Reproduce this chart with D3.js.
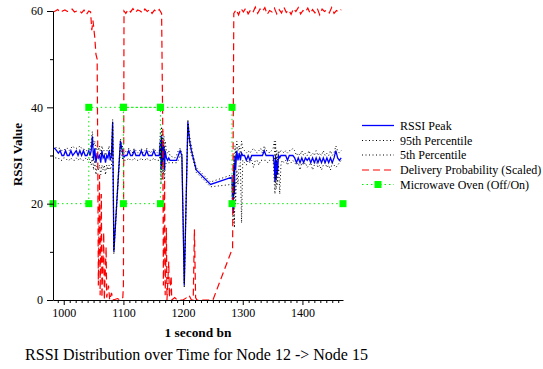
<!DOCTYPE html>
<html>
<head>
<meta charset="utf-8">
<script src="https://cdn.jsdelivr.net/npm/d3@7/dist/d3.min.js"></script>
<style>
  html, body { margin: 0; padding: 0; background: #fff; }
  svg { display: block; }
</style>
</head>
<body>
<svg id="chart" width="543" height="369"></svg>
<script>
// ---- RSSI samples (1 second bins), shared time axis for the three RSSI series ----
const rssiTime = [
  982, 985, 988, 991, 994, 997, 1000, 1003, 1006, 1009, 1012, 1015, 1018, 1021, 1024, 1027, 1030, 1033, 1036, 1039, 1042,
  1044, 1046, 1048, 1050, 1052, 1054, 1056, 1058, 1060, 1062, 1064, 1066, 1068, 1070, 1072, 1074, 1076, 1078, 1080,
  1082, 1084, 1095, 1098, 1100,
  1103, 1106, 1109, 1112, 1115, 1118, 1121, 1124, 1127, 1130, 1133, 1136, 1139, 1142, 1145, 1148, 1151, 1154, 1157, 1160,
  1162, 1163, 1164, 1165, 1166, 1167, 1168, 1169, 1170, 1172, 1174, 1176, 1178, 1180,
  1183, 1186, 1189, 1192, 1195, 1198,
  1202, 1208, 1211, 1214, 1217, 1222, 1246, 1282,
  1283, 1284, 1285, 1286, 1287, 1288, 1290, 1292, 1294, 1296, 1298, 1300,
  1303, 1306, 1309, 1312, 1315, 1318, 1321, 1324, 1327, 1330, 1333, 1336, 1339, 1342, 1345, 1348, 1351,
  1353, 1354, 1355, 1356, 1357, 1358, 1360, 1362, 1364,
  1366, 1369, 1372, 1375, 1378, 1381, 1384, 1387, 1390, 1393, 1396, 1399, 1402, 1405, 1408, 1411, 1414,
  1417, 1420, 1423, 1426, 1429, 1432, 1435, 1438, 1441, 1444, 1447, 1450, 1453, 1456, 1459, 1462, 1465
];
const rssiPeak = [
  31.5, 31.5, 31, 30.5, 31, 30, 30, 31, 30, 30, 31, 30, 30.5, 31, 30, 31, 30, 31, 30, 30, 31,
  30, 31, 34, 29, 31.5, 28.5, 30.5, 29.5, 30, 28.5, 31, 29.5, 30, 28.5, 30, 29.5, 31, 29, 30,
  37, 10, 33, 31, 29.5,
  30, 30, 31, 30, 30, 31, 30, 30, 30, 31, 30, 30, 31, 30, 30, 30, 31, 30, 30, 30,
  33, 27, 34, 28, 33, 29, 32, 27, 31, 29.5, 29, 29.5, 29, 29,
  29, 29, 29, 30, 31, 30,
  3, 37, 33, 31, 29.5, 27, 24, 25.5,
  20, 18, 28, 22, 30, 27, 31, 29, 30.5, 29, 30.5, 30,
  30, 29, 30, 29, 30, 30, 30, 30, 30, 30, 30, 31, 30, 30, 30, 30, 30,
  28, 24.5, 30, 25, 29, 26, 30, 29.5, 30,
  30, 30, 30, 29, 30, 30, 30, 29.5, 28.5, 29.5, 28.5, 29.5, 28.5, 29.5, 29, 29.5, 28.5,
  29.5, 28.5, 29.5, 28.5, 29.5, 28.5, 29.5, 28.5, 29.5, 28.5, 29.5, 28.5, 29.5, 31, 29.5, 29, 29.5
];
const rssiP95 = [
  32, 32, 31.5, 31.5, 31.5, 31, 31, 31.5, 31.5, 31, 31.5, 32, 31.5, 31.5, 31.5, 32, 31.5, 31.5, 31, 31, 31.5,
  31, 33, 35, 32, 33, 31, 32, 31, 32, 30, 32, 31, 31, 30, 31, 31, 32, 30, 31,
  37.5, 10.5, 33.5, 32, 30.5,
  31, 30.5, 31.5, 31, 30.5, 31.5, 31, 30.5, 31, 31.5, 30.5, 31, 31.5, 31, 30.5, 31, 31.5, 31, 30.5, 31,
  35, 30, 36, 31, 35, 32, 34, 30, 33, 31, 30.5, 31, 30, 30,
  29.5, 29.5, 30, 31, 31.5, 30.5,
  3.5, 37.5, 34, 32, 30, 27.5, 24.5, 26,
  25, 22, 30, 26, 32, 30, 33, 31, 32, 30, 33, 31.5,
  31, 30.5, 31, 30.5, 31, 31.5, 31, 30.5, 31, 31.5, 30.5, 32, 31, 31, 30.5, 31, 31.5,
  33, 29, 33, 28, 31, 29, 31, 30.5, 31,
  31, 30.5, 31, 30.5, 31, 31, 31.5, 31, 30, 30.5, 30, 31, 30, 30.5, 30, 31, 30,
  30.5, 30, 31, 30, 30.5, 30, 31, 30, 30.5, 30, 31, 30, 30.5, 32, 31, 30.5, 31
];
const rssiP05 = [
  30, 29.5, 29.5, 29.5, 29, 29, 29.5, 29.5, 29, 29, 29.5, 29, 29, 29.5, 29, 29.5, 29, 29, 29.5, 29, 29.5,
  29, 28, 30, 27, 29, 26, 28, 27, 28, 26, 28, 27, 28, 26, 28, 27, 28, 27, 28,
  36, 9.5, 32, 29.5, 29,
  29, 29, 29.5, 29, 29, 29.5, 29, 29, 29, 29.5, 29, 29, 29.5, 29, 29, 29, 29.5, 29, 29, 29,
  31, 24, 32, 25, 30, 26, 29, 25, 28, 28.5, 28.5, 28.5, 28.5, 28.5,
  28.5, 28.5, 28.5, 29, 30, 29.5,
  2.5, 36, 32, 30, 29, 26.5, 23.5, 24,
  18, 16, 24, 15, 25, 20, 27, 24, 28, 28.5, 16, 29,
  28.5, 28, 29, 28.5, 29, 27.5, 29, 29, 28, 29, 29, 29, 29, 28.5, 29, 29, 29,
  24, 22, 26, 23, 27, 24, 28, 22, 28,
  29, 28.5, 29, 28, 29, 28.5, 29, 28.5, 28, 28.5, 27, 28.5, 28, 28.5, 27.5, 28, 28.5,
  27, 28, 28.5, 27.5, 28, 27, 28, 28.5, 27.5, 28, 27, 28.5, 28, 27.5, 28, 28.5, 29
];

// ---- Packet delivery probability, scaled so that 100% sits at 60 ----
const deliveryTime = [
  982, 986, 990, 994, 998, 1002, 1006, 1010, 1014, 1018, 1022, 1026, 1030, 1034, 1038, 1042, 1045,
  1047, 1049, 1052, 1054, 1056, 1057, 1058, 1060, 1061, 1063, 1064, 1067, 1068, 1071, 1072, 1075, 1077, 1080, 1083, 1090, 1095, 1099, 1100,
  1101, 1104, 1108, 1112, 1116, 1120, 1124, 1128, 1132, 1136, 1140, 1144, 1148, 1152, 1156, 1160, 1164,
  1166, 1167, 1169, 1170, 1172, 1173, 1176, 1177, 1180, 1181, 1186, 1190, 1200, 1206, 1210, 1214, 1217, 1219, 1221, 1223, 1250, 1283,
  1285, 1289, 1293, 1297, 1301, 1305, 1309, 1313, 1317, 1321, 1325, 1329, 1333, 1337, 1341, 1345, 1349, 1353, 1357, 1361,
  1365, 1369, 1373, 1377, 1381, 1385, 1389, 1393, 1397, 1401, 1405, 1409, 1413, 1417, 1421, 1425, 1429, 1433, 1437, 1441,
  1445, 1449, 1453, 1457, 1461, 1465
];
const deliveryScaled = [
  59.8, 60, 60.3, 59.7, 60, 60.2, 59.9, 60, 60.4, 59.8, 60, 60.1, 59.6, 60.2, 59.3, 60, 59.8,
  56, 58, 54.5, 51, 50, 30, 3, 26, 1, 22, 0.5, 14, 0, 11, 0.5, 3, 0, 1.5, 0, 0.3, 0, 0.5, 3,
  60, 59.5, 60.3, 59.8, 60.5, 59.7, 60.2, 60, 59.6, 60.4, 59.9, 60.3, 59.5, 60.2, 59.8, 60.3, 59.5,
  35, 3, 25, 1, 15, 0, 8, 0.5, 5, 0, 0.5, 0, 0, 0.5, 1, 0, 0, 14.7, 0.5, 0, 0, 10.8,
  59.5, 60.3, 59.2, 60.5, 59.8, 60.6, 59.4, 60.2, 59.7, 60.8, 59.5, 60.4, 59.9, 60.7, 59.3, 60.1, 59.8, 60.6, 59.4, 60.3,
  59.6, 60.8, 59.7, 60.2, 59.3, 60.5, 59.9, 60.7, 59.4, 60.1, 59.8, 60.6, 59.5, 60.3, 59.6, 60.5, 59.2, 60.4, 59.9, 60.2,
  59.6, 60.7, 59.5, 60.1, 59.8, 60.3
];

// ---- Microwave oven state: 20 = off, 40 = on ----
const microwaveTime  = [982, 1042, 1042, 1100, 1162, 1162, 1100, 1100, 1162, 1282, 1282, 1468];
const microwaveLevel = [20, 20, 40, 40, 40, 20, 20, 40, 40, 40, 20, 20];

// ---- Axis ticks and labels ----
const xMajorTicks = [1000, 1100, 1200, 1300, 1400];
const xMinorTicks = d3.range(990, 1468, 10).filter(v => v % 100 !== 0);
const yMajorTicks = [0, 20, 40, 60];
const yMinorTicks = [10, 30, 50];
const legendLabels = ["RSSI Peak", "95th Percentile", "5th Percentile", "Delivery Probability (Scaled)", "Microwave Oven (Off/On)"];
const xTitle = "1 second bn";
const yTitle = "RSSI Value";
const caption = "RSSI Distribution over Time for Node 12 -> Node 15";

const SERIF = "Liberation Serif";

// ---- Layout ----
const svg = d3.select("#chart");
const plot = { left: 53, right: 343, top: 11, bottom: 300 };
const x = d3.scaleLinear().domain([982, 1468]).range([plot.left, plot.right]);
const y = d3.scaleLinear().domain([0, 60]).range([plot.bottom, plot.top]);

const toPoints = (ts, vs) => ts.map((t, i) => [t, vs[i]]);
const line = d3.line().x(d => x(d[0])).y(d => y(d[1]));

const series = [
  { data: toPoints(rssiTime, rssiPeak), stroke: "#0000ff", width: 1.3, dash: null },
  { data: toPoints(rssiTime, rssiP95), stroke: "#000000", width: 1, dash: "1,2.5" },
  { data: toPoints(rssiTime, rssiP05), stroke: "#000000", width: 1, dash: "1,2.5" },
  { data: toPoints(deliveryTime, deliveryScaled), stroke: "#ff0000", width: 1.2, dash: "7,4" },
  { data: toPoints(microwaveTime, microwaveLevel), stroke: "#00ee00", width: 1, dash: "1.5,3" }
];

const g = svg.append("g");
series.forEach(s => {
  g.append("path")
    .datum(s.data)
    .attr("d", line)
    .attr("fill", "none")
    .attr("stroke", s.stroke)
    .attr("stroke-width", s.width)
    .attr("stroke-dasharray", s.dash);
});

// square markers on the microwave series
g.selectAll("rect.mw")
  .data(toPoints(microwaveTime, microwaveLevel))
  .join("rect")
  .attr("class", "mw")
  .attr("x", d => x(d[0]) - 3.5)
  .attr("y", d => y(d[1]) - 3.5)
  .attr("width", 7)
  .attr("height", 7)
  .attr("fill", "#00ff00");

// ---- Axes ----
const xAxis = svg.append("g").attr("transform", `translate(0,${plot.bottom})`)
  .call(d3.axisBottom(x).tickValues(xMajorTicks).tickFormat(d3.format("d")).tickSize(5).tickSizeOuter(0));
svg.append("g").attr("transform", `translate(0,${plot.bottom})`)
  .call(d3.axisBottom(x).tickValues(xMinorTicks).tickFormat("").tickSize(3).tickSizeOuter(0))
  .select(".domain").remove();

const yAxis = svg.append("g").attr("transform", `translate(${plot.left},0)`)
  .call(d3.axisLeft(y).tickValues(yMajorTicks).tickSize(6).tickSizeOuter(0));
svg.append("g").attr("transform", `translate(${plot.left},0)`)
  .call(d3.axisLeft(y).tickValues(yMinorTicks).tickFormat("").tickSize(3).tickSizeOuter(0))
  .select(".domain").remove();

svg.selectAll(".tick text")
  .style("font-size", "12px")
  .attr("fill", "#000");
xAxis.selectAll(".tick text").attr("dy", "0.75em");
yAxis.selectAll(".tick text").attr("x", -10);
svg.selectAll(".domain, .tick line").attr("stroke", "#000").attr("stroke-width", 1);

// ---- Titles ----
svg.append("text")
  .attr("x", 198).attr("y", 337)
  .attr("text-anchor", "middle")
  .style("font-size", "13.4px").style("font-weight", "bold")
  .text(xTitle);

svg.append("text")
  .attr("transform", "translate(22,154.5) rotate(-90)")
  .attr("text-anchor", "middle")
  .style("font-size", "13px").style("font-weight", "bold")
  .text(yTitle);

svg.append("text")
  .attr("x", 196.5).attr("y", 360)
  .attr("text-anchor", "middle")
  .style("font-size", "16px")
  .text(caption);

// ---- Legend ----
const legendRows = [125.5, 140.5, 155, 170, 184.5];
const legend = svg.append("g");
series.forEach((s, i) => {
  const ly = legendRows[i];
  legend.append("line")
    .attr("x1", 362).attr("x2", 394).attr("y1", ly).attr("y2", ly)
    .attr("stroke", s.stroke)
    .attr("stroke-width", s.width)
    .attr("stroke-dasharray", s.dash);
  legend.append("text")
    .attr("x", 400).attr("y", ly + 4)
    .style("font-size", "12px")
    .text(legendLabels[i]);
});
legend.append("rect")
  .attr("x", 378 - 3.5).attr("y", legendRows[4] - 3.5)
  .attr("width", 7).attr("height", 7)
  .attr("fill", "#00ff00");

// every label uses the serif face
svg.selectAll("text").style("font-family", SERIF);
</script>
</body>
</html>
